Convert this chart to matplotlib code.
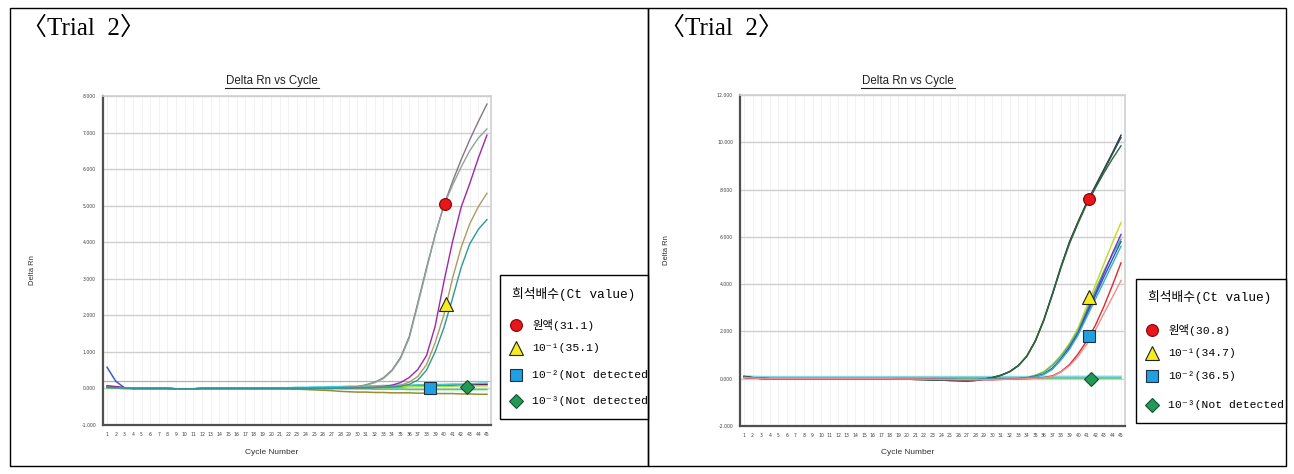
import numpy as np
import matplotlib
matplotlib.use("Agg")
import matplotlib.pyplot as plt
from matplotlib.patches import Rectangle
from matplotlib.transforms import Bbox

# cycle numbers on the x axis
cycles = np.arange(1, 46)

# ---- Trial 2, left run: Delta Rn per cycle ----
left_rising = {
    "#857585": [0.05, 0.03, 0.01, 0.00, 0.00, 0.00, 0.00, 0.00, -0.01, -0.01,
                -0.01, 0.00, 0.00, 0.00, 0.00, 0.00, 0.00, 0.00, 0.00, 0.00,
                0.00, 0.00, 0.00, 0.00, 0.00, 0.01, 0.01, 0.02, 0.03, 0.05,
                0.10, 0.17, 0.29, 0.50, 0.85, 1.42, 2.35, 3.30, 4.20, 5.00,
                5.65, 6.25, 6.80, 7.30, 7.78],
    "#8fa596": [0.04, 0.02, 0.01, 0.00, 0.00, 0.00, 0.00, 0.00, -0.01, -0.01,
                -0.01, 0.00, 0.00, 0.00, 0.00, 0.00, 0.00, 0.00, 0.00, 0.00,
                0.00, 0.00, 0.00, 0.00, 0.00, 0.01, 0.01, 0.02, 0.03, 0.04,
                0.09, 0.16, 0.27, 0.48, 0.82, 1.38, 2.30, 3.25, 4.20, 5.00,
                5.55, 6.05, 6.50, 6.85, 7.10],
    "#9a2aa8": [0.06, 0.04, 0.01, 0.00, 0.00, 0.00, 0.00, 0.00, -0.01, -0.01,
                -0.01, 0.00, 0.00, 0.00, 0.00, 0.00, 0.00, 0.00, 0.00, 0.00,
                0.00, 0.00, 0.00, 0.00, 0.00, 0.00, 0.00, 0.01, 0.01, 0.02,
                0.02, 0.03, 0.05, 0.09, 0.16, 0.30, 0.52, 0.90, 1.70, 2.90,
                4.00, 4.95, 5.60, 6.30, 6.93],
    "#b09a62": [0.03, 0.02, 0.01, 0.00, 0.00, 0.00, 0.00, 0.00, -0.01, -0.01,
                -0.01, 0.00, 0.00, 0.00, 0.00, 0.00, 0.00, 0.00, 0.00, 0.00,
                0.00, 0.00, 0.00, 0.00, 0.00, 0.00, 0.00, 0.01, 0.01, 0.02,
                0.02, 0.03, 0.04, 0.06, 0.09, 0.17, 0.33, 0.65, 1.25, 2.00,
                3.00, 3.85, 4.50, 4.97, 5.34],
    "#2f9797": [0.03, 0.02, 0.01, 0.00, 0.00, 0.00, 0.00, 0.00, -0.01, -0.01,
                -0.01, 0.00, 0.00, 0.00, 0.00, 0.00, 0.00, 0.00, 0.00, 0.00,
                0.00, 0.00, 0.00, 0.00, 0.00, 0.00, 0.00, 0.01, 0.01, 0.02,
                0.02, 0.02, 0.03, 0.04, 0.06, 0.11, 0.23, 0.50, 1.00, 1.65,
                2.45, 3.30, 3.95, 4.35, 4.62],
}
left_flat = {
    "#3a5cc8": [0.58, 0.20, 0.02, 0.00, 0.00, 0.00, 0.00, 0.00, -0.01, -0.01,
                -0.01, 0.00, 0.00, 0.00, 0.00, 0.00, 0.00, 0.00, 0.01, 0.01,
                0.01, 0.01, 0.01, 0.01, 0.02, 0.02, 0.02, 0.02, 0.02, 0.03,
                0.03, 0.04, 0.04, 0.05, 0.05, 0.06, 0.06, 0.07, 0.08, 0.08,
                0.09, 0.10, 0.10, 0.11, 0.12],
    "#6a1a5a": [0.07, 0.05, 0.02, 0.00, 0.00, 0.00, 0.00, 0.00, -0.01, -0.01,
                -0.01, 0.00, 0.00, 0.00, 0.00, 0.00, 0.00, 0.00, 0.00, 0.00,
                0.00, 0.01, 0.01, 0.01, 0.01, 0.01, 0.02, 0.02, 0.02, 0.03,
                0.03, 0.04, 0.04, 0.05, 0.05, 0.06, 0.06, 0.07, 0.07, 0.08,
                0.08, 0.09, 0.09, 0.10, 0.10],
    "#9a8a30": [0.02, 0.01, 0.00, 0.00, 0.00, 0.00, 0.00, 0.00, -0.01, -0.01,
                -0.01, 0.00, 0.00, 0.00, 0.00, 0.00, 0.00, -0.01, -0.01, -0.01,
                -0.01, -0.02, -0.02, -0.03, -0.04, -0.05, -0.06, -0.08, -0.09, -0.10,
                -0.10, -0.11, -0.11, -0.12, -0.12, -0.12, -0.13, -0.13, -0.14, -0.14,
                -0.14, -0.15, -0.15, -0.16, -0.16],
    "#a8e040": [0.02, 0.01, 0.00, 0.00, 0.00, 0.00, 0.00, 0.00, -0.01, -0.01,
                -0.01, 0.00, 0.00, 0.00, 0.00, 0.00, 0.00, 0.00, 0.00, 0.00,
                0.00, 0.00, 0.01, 0.01, 0.02, 0.02, 0.03, 0.03, 0.03, 0.04,
                0.04, 0.04, 0.04, 0.05, 0.05, 0.05, 0.05, 0.06, 0.06, 0.06,
                0.06, 0.07, 0.07, 0.07, 0.07],
    "#40c8d8": [0.02, 0.01, 0.00, 0.00, 0.00, 0.00, 0.00, 0.00, -0.01, -0.01,
                -0.01, 0.00, 0.00, 0.00, 0.00, 0.00, 0.00, 0.01, 0.01, 0.01,
                0.02, 0.02, 0.03, 0.03, 0.04, 0.04, 0.05, 0.05, 0.06, 0.06,
                0.07, 0.07, 0.08, 0.08, 0.09, 0.09, 0.10, 0.10, 0.11, 0.11,
                0.12, 0.12, 0.13, 0.14, 0.15],
    "#30e060": [0.02, 0.01, 0.00, 0.00, 0.00, 0.00, 0.00, 0.00, -0.01, -0.01,
                -0.01, 0.00, 0.00, 0.00, 0.00, 0.00, 0.00, 0.00, 0.00, 0.00,
                0.00, 0.00, 0.00, 0.00, 0.00, 0.00, 0.00, -0.01, -0.01, -0.01,
                -0.01, -0.02, -0.02, -0.02, -0.02, -0.03, -0.03, -0.03, -0.03, -0.03,
                -0.03, -0.03, -0.03, -0.03, -0.03],
}
left_threshold = 0.2
left_mark_cycles = [40.1, 40.2, 38.4, 42.7]
left_mark_values = [5.05, 2.3, 0.0, 0.05]
left_legend = ["원액(31.1)", "10⁻¹(35.1)", "10⁻²(Not detected", "10⁻³(Not detected"]

# ---- Trial 2, right run ----
right_rising = {
    "#2e2e2e": [0.10, 0.05, 0.02, 0.00, 0.00, 0.00, -0.01, -0.01, -0.01, -0.01,
                -0.01, -0.01, -0.01, 0.00, 0.00, 0.00, -0.01, -0.01, -0.02, -0.02,
                -0.03, -0.04, -0.05, -0.06, -0.08, -0.09, -0.10, -0.08, -0.02, 0.05,
                0.15, 0.30, 0.55, 0.95, 1.60, 2.50, 3.60, 4.75, 5.80, 6.65,
                7.45, 8.15, 8.85, 9.55, 10.30],
    "#2f4c60": [0.08, 0.04, 0.01, 0.00, 0.00, 0.00, -0.01, -0.01, -0.01, -0.01,
                -0.01, -0.01, -0.01, 0.00, 0.00, 0.00, -0.01, -0.01, -0.02, -0.02,
                -0.03, -0.04, -0.05, -0.06, -0.07, -0.08, -0.09, -0.07, -0.02, 0.04,
                0.14, 0.29, 0.54, 0.94, 1.58, 2.48, 3.58, 4.72, 5.78, 6.62,
                7.42, 8.10, 8.80, 9.50, 10.20],
    "#2d6a3a": [0.09, 0.04, 0.01, 0.00, 0.00, 0.00, -0.01, -0.01, -0.01, -0.01,
                -0.01, -0.01, -0.01, 0.00, 0.00, 0.00, -0.01, -0.01, -0.02, -0.02,
                -0.03, -0.03, -0.04, -0.05, -0.06, -0.07, -0.08, -0.06, -0.01, 0.05,
                0.15, 0.30, 0.55, 0.95, 1.60, 2.48, 3.56, 4.70, 5.72, 6.58,
                7.38, 8.05, 8.70, 9.30, 9.85],
    "#c8d820": [0.05, 0.03, 0.01, 0.00, 0.00, 0.00, 0.00, 0.00, 0.00, 0.00,
                0.00, 0.00, 0.00, 0.00, 0.00, 0.00, 0.00, 0.00, -0.01, -0.01,
                -0.01, -0.01, -0.02, -0.02, -0.02, -0.03, -0.03, -0.03, -0.02, -0.02,
                -0.01, 0.00, 0.02, 0.05, 0.15, 0.30, 0.60, 1.00, 1.50, 2.15,
                3.05, 3.95, 4.85, 5.75, 6.60],
    "#40c070": [0.05, 0.03, 0.01, 0.00, 0.00, 0.00, 0.00, 0.00, 0.00, 0.00,
                0.00, 0.00, 0.00, 0.00, 0.00, 0.00, 0.00, 0.00, -0.01, -0.01,
                -0.01, -0.01, -0.02, -0.02, -0.02, -0.03, -0.03, -0.03, -0.02, -0.02,
                -0.01, 0.00, 0.02, 0.05, 0.14, 0.28, 0.56, 0.95, 1.45, 2.05,
                2.90, 3.75, 4.55, 5.25, 5.90],
    "#7030c8": [0.06, 0.03, 0.01, 0.00, 0.00, 0.00, 0.00, 0.00, 0.00, 0.00,
                0.00, 0.00, 0.00, 0.00, 0.00, 0.00, 0.00, 0.00, -0.01, -0.01,
                -0.01, -0.02, -0.02, -0.03, -0.03, -0.04, -0.04, -0.04, -0.03, -0.03,
                -0.02, -0.01, 0.00, 0.03, 0.10, 0.20, 0.45, 0.85, 1.35, 1.95,
                2.80, 3.60, 4.45, 5.30, 6.10],
    "#3050d0": [0.06, 0.03, 0.01, 0.00, 0.00, 0.00, 0.00, 0.00, 0.00, 0.00,
                0.00, 0.00, 0.00, 0.00, 0.00, 0.00, 0.00, 0.00, -0.01, -0.01,
                -0.01, -0.02, -0.02, -0.03, -0.03, -0.04, -0.04, -0.04, -0.03, -0.03,
                -0.02, -0.01, 0.00, 0.03, 0.09, 0.19, 0.42, 0.82, 1.30, 1.90,
                2.70, 3.50, 4.30, 5.05, 5.80],
    "#30b8b0": [0.05, 0.03, 0.01, 0.00, 0.00, 0.00, 0.00, 0.00, 0.00, 0.00,
                0.00, 0.00, 0.00, 0.00, 0.00, 0.00, 0.00, 0.00, -0.01, -0.01,
                -0.01, -0.01, -0.02, -0.02, -0.02, -0.03, -0.03, -0.03, -0.02, -0.02,
                -0.01, 0.00, 0.01, 0.03, 0.08, 0.18, 0.40, 0.80, 1.25, 1.85,
                2.60, 3.35, 4.10, 4.85, 5.60],
    "#e02828": [0.05, 0.03, 0.01, 0.00, 0.00, 0.00, 0.00, 0.00, 0.00, 0.00,
                0.00, 0.00, 0.00, 0.00, 0.00, 0.00, 0.00, 0.00, -0.01, -0.01,
                -0.01, -0.02, -0.02, -0.03, -0.03, -0.04, -0.04, -0.04, -0.04, -0.04,
                -0.03, -0.02, -0.01, 0.00, 0.02, 0.05, 0.12, 0.30, 0.60, 1.05,
                1.60, 2.25, 3.05, 3.95, 4.90],
    "#e89090": [0.05, 0.03, 0.01, 0.00, 0.00, 0.00, 0.00, 0.00, 0.00, 0.00,
                0.00, 0.00, 0.00, 0.00, 0.00, 0.00, 0.00, 0.00, -0.01, -0.01,
                -0.01, -0.02, -0.02, -0.03, -0.03, -0.04, -0.04, -0.04, -0.04, -0.04,
                -0.03, -0.02, -0.01, 0.00, 0.02, 0.04, 0.10, 0.28, 0.55, 0.95,
                1.45, 2.05, 2.75, 3.45, 4.15],
}
right_flat = {
    "#80d8e8": [0.12, 0.10, 0.09, 0.09, 0.09, 0.09, 0.09, 0.09, 0.09, 0.09,
                0.09, 0.09, 0.09, 0.09, 0.09, 0.09, 0.09, 0.09, 0.09, 0.09,
                0.09, 0.09, 0.09, 0.09, 0.09, 0.09, 0.09, 0.09, 0.09, 0.09,
                0.09, 0.09, 0.09, 0.09, 0.09, 0.10, 0.10, 0.10, 0.10, 0.10,
                0.10, 0.10, 0.10, 0.10, 0.10],
    "#50b868": [0.06, 0.04, 0.03, 0.03, 0.03, 0.03, 0.03, 0.03, 0.03, 0.03,
                0.03, 0.03, 0.03, 0.03, 0.03, 0.03, 0.03, 0.03, 0.03, 0.03,
                0.03, 0.03, 0.03, 0.03, 0.03, 0.03, 0.03, 0.03, 0.03, 0.03,
                0.03, 0.03, 0.03, 0.03, 0.03, 0.03, 0.03, 0.03, 0.03, 0.03,
                0.03, 0.03, 0.03, 0.03, 0.03],
}
right_mark_cycles = [41.3, 41.3, 41.3, 41.5]
right_mark_values = [7.6, 3.47, 1.8, 0.0]
right_legend = ["원액(30.8)", "10⁻¹(34.7)", "10⁻²(36.5)", "10⁻³(Not detected"]

mark_styles = [("o", "#e8161b", "#8a0000", 8.5),
               ("^", "#f5ee1a", "#202020", 10),
               ("s", "#20a0e0", "#203040", 8.5),
               ("D", "#229a55", "#145030", 7.5)]

W, H = 1294, 474
fig = plt.figure(figsize=(W / 100, H / 100), dpi=100)

# overlay in pixel coordinates for frames and free text
ov = fig.add_axes([0, 0, 1, 1])
ov.set_xlim(0, W)
ov.set_ylim(H, 0)
ov.axis("off")

legend_font = ["Liberation Mono", "Noto Sans CJK KR", "DejaVu Sans"]
title_font = ["Liberation Serif", "Noto Sans CJK KR"]


def draw_panel(px0, px1, ax_box, yticks, ylim, rising, flat, threshold,
               mark_c, mark_v, legend_labels, leg_box, leg_title_y, leg_rows,
               title_x, ylab_xy):
    # panel frame
    ov.add_patch(Rectangle((px0, 8), px1 - px0, 458, fill=False, ec="black", lw=1.0))
    ov.text(px0 + 12, 28, "〈Trial  2〉", fontsize=18, family=title_font,
            va="center", ha="left")
    ov.text(title_x, 81, "Delta Rn vs Cycle", fontsize=8.3, ha="center",
            va="center", family="Liberation Sans", color="#202020")
    ov.plot([title_x - 47, title_x + 47], [87.5, 87.5], color="#202020", lw=0.8)
    ov.text(title_x, 453, "Cycle Number", fontsize=6, ha="center",
            va="center", family="Liberation Sans", color="#303030")
    ov.text(ylab_xy[0], ylab_xy[1], "Delta Rn", fontsize=5.5, ha="center",
            va="center", rotation=90, family="Liberation Sans", color="#303030")

    l, t, r, b = ax_box
    ax = fig.add_axes([l / W, 1 - b / H, (r - l) / W, (b - t) / H])
    for c in cycles:
        ax.axvline(c, color="#f0f0f0", lw=0.6, zorder=0)
    for v in yticks:
        ax.axhline(v, color="#cfcfcf", lw=1.0, zorder=0.5)
    if threshold is not None:
        ax.axhline(threshold, color="#b0b0b0", lw=0.9, zorder=0.6)
    for col, vals in flat.items():
        ax.plot(cycles, vals, color=col, lw=1.1, zorder=2)
    for col, vals in rising.items():
        ax.plot(cycles, vals, color=col, lw=1.0, zorder=2)
    for (m, fc, ec, ms), c, v in zip(mark_styles, mark_c, mark_v):
        ax.plot(c, v, marker=m, ms=ms, mfc=fc, mec=ec, mew=0.8, ls="none", zorder=5)
    ax.set_xlim(0.53, 45.47)
    ax.set_ylim(*ylim)
    ax.set_xticks(cycles)
    ax.set_xticklabels([str(c) for c in cycles])
    ax.set_yticks(yticks)
    ax.set_yticklabels([f"{v:.3f}" for v in yticks])
    ax.tick_params(length=0, labelsize=3.3, labelcolor="#404040", pad=5)
    for s in ("left", "bottom"):
        ax.spines[s].set_color("#505050")
        ax.spines[s].set_linewidth(1.6)
    for s in ("top", "right"):
        ax.spines[s].set_color("#d0d0d0")
        ax.spines[s].set_linewidth(1.2)

    # legend box; long entries run up to the panel edge as in the source image
    lx0, ly0, lx1, ly1 = leg_box
    box = Rectangle((lx0, ly0), lx1 - lx0, ly1 - ly0, fc="white", ec="black", lw=1.0)
    ov.add_patch(box)
    clip = Bbox.from_extents(lx0, H - ly1, min(lx1, px1) - 1, H - ly0)
    texts = [ov.text(lx0 + 12, leg_title_y, "희석배수(Ct value)", fontsize=9.2,
                     family=legend_font, va="center", ha="left")]
    for (m, fc, ec, ms), lab, ry in zip(mark_styles, legend_labels, leg_rows):
        ov.plot(lx0 + 16, ry, marker=m, ms=ms, mfc=fc, mec=ec, mew=0.8, ls="none")
        texts.append(ov.text(lx0 + 32, ry, lab, fontsize=8.2, family=legend_font,
                             va="center", ha="left"))
    for tx in texts:
        tx.set_clip_on(True)
        tx.set_clip_box(clip)


draw_panel(10, 648, (103, 96, 491, 425), [-1, 0, 1, 2, 3, 4, 5, 6, 7, 8], (-1, 8),
           left_rising, left_flat, left_threshold, left_mark_cycles, left_mark_values,
           left_legend, (500, 275, 648, 419), 294, [325, 348, 375, 401],
           272, (32, 270))
draw_panel(648, 1286, (740, 95, 1125, 426), [-2, 0, 2, 4, 6, 8, 10, 12], (-2, 12),
           right_rising, right_flat, None, right_mark_cycles, right_mark_values,
           right_legend, (1136, 279, 1286, 423), 297, [330, 353, 376, 405],
           908, (666, 250))

fig.savefig("out.png", dpi=100)
